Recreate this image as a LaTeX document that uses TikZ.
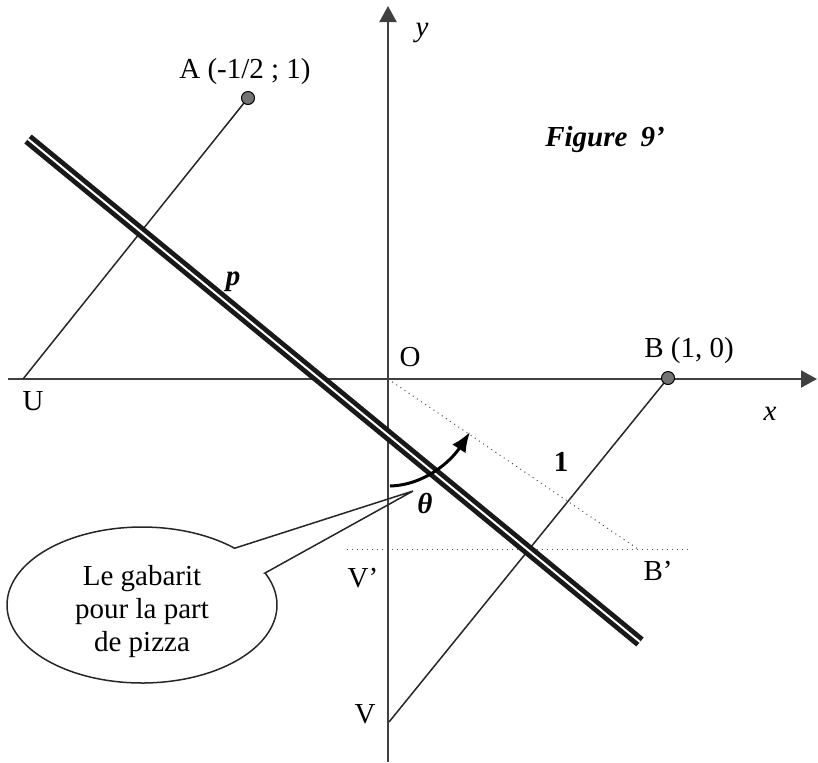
\documentclass[tikz,border=0pt]{standalone}
\usepackage{fontspec}
\setmainfont{Liberation Serif}
\usetikzlibrary{arrows.meta}
\begin{document}
\begin{tikzpicture}[x=0.5pt,y=-0.5pt,
  lbl/.style={font=\fontsize{14.5}{16.5}\selectfont, inner sep=0pt, anchor=base},
  axisline/.style={line width=1pt, draw=black!75, -{Triangle[length=8pt,width=8.5pt]}},
  segline/.style={line width=0.75pt, draw=black!85},
  dotline/.style={line width=0.5pt, draw=black!70, dotted},
  ptdot/.style={circle, fill=black!55, draw=black, line width=0.5pt, minimum size=6.5pt, inner sep=0pt},
  pline/.style={line width=2.4pt, double distance=1pt, draw=black!90, double=white},
  arcarrow/.style={line width=1.5pt, -{Latex[length=10pt,width=8pt]}}
]
\useasboundingbox (0,0) rectangle (818,762);
% coordinates
\coordinate (O) at (388,379);
\coordinate (Xs) at (8,379);
\coordinate (Xe) at (817,379);
\coordinate (Ys) at (388,762);
\coordinate (Ye) at (388,6);
\coordinate (A) at (248,98);
\coordinate (U) at (23,379);
\coordinate (B) at (668,378);
\coordinate (V) at (389,722);
\coordinate (P1) at (28,139);
\coordinate (P2) at (640,642);
\coordinate (Bp) at (638,549);
\coordinate (H1) at (347,549);
\coordinate (H2) at (689,549);
\coordinate (S) at (390,486);
\coordinate (E) at (470,432);
\coordinate (T) at (413,491);
\coordinate (C1) at (265,573);
% dotted lines
\draw[dotline] (H1) -- (H2);
\draw[dotline] (O) -- (Bp);
% axes
\draw[axisline] (Xs) -- (Xe);
\draw[axisline] (Ys) -- (Ye);
% segments
\draw[segline] (A) -- (U);
\draw[segline] (B) -- (V);
% line p
\draw[pline] (P1) -- (P2);
% angle arrow
\draw[arcarrow] (S) .. controls (425,485) and (451,461) .. (E);
% callout
\draw[segline] (T) -- (C1) -- plot[domain=-24.2:313.3,samples=150] ({142+135*cos(\x)},{605+78*sin(\x)}) -- (T);
\node[font=\fontsize{14.5}{16.5}\selectfont, align=center, inner sep=0pt] (ct) at (142,612) {Le gabarit\\pour la part\\de pizza};
% points
\node[ptdot] (pA) at (A) {};
\node[ptdot] (pB) at (B) {};
% labels
\node[lbl] (lA) at (245,78) {A (-1/2 ; 1)};
\node[lbl] (lB) at (689,357) {B (1, 0)};
\node[lbl] (lO) at (410,366) {O};
\node[lbl] (lU) at (33,410) {U};
\node[lbl] (lx) at (770,420) {\itshape x};
\node[lbl] (ly) at (422,36) {\itshape y};
\node[lbl] (lF) at (605,146) {\bfseries\itshape Figure\hspace{0.45em}9’};
\node[lbl] (lp) at (233,285) {\bfseries\itshape p};
\node[lbl] (l1) at (561,471) {\bfseries 1};
\node[lbl] (lth) at (425,513) {\bfseries\itshape θ};
\node[lbl] (lVp) at (363,587) {V’};
\node[lbl] (lV) at (365,723) {V};
\node[lbl] (lBp) at (658,580) {B’};
\end{tikzpicture}
\end{document}
